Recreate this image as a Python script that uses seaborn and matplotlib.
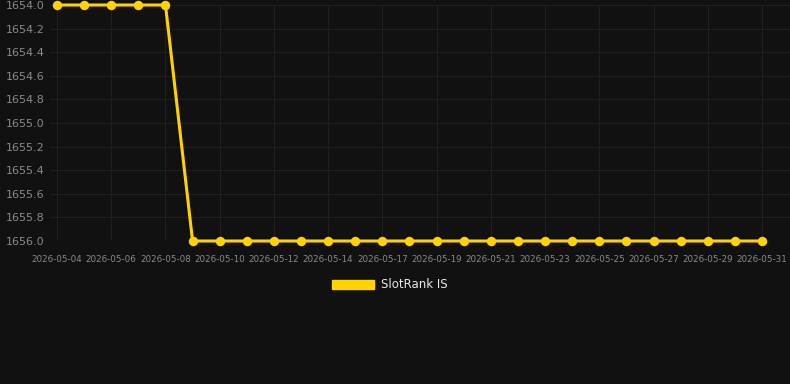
import matplotlib
matplotlib.use("Agg")
import matplotlib.pyplot as plt
import seaborn as sns
import pandas as pd
from matplotlib.patches import Patch

dates = ["2026-05-04", "2026-05-05", "2026-05-06", "2026-05-07", "2026-05-08",
         "2026-05-09", "2026-05-10", "2026-05-11", "2026-05-12", "2026-05-13",
         "2026-05-14", "2026-05-16", "2026-05-17", "2026-05-18", "2026-05-19",
         "2026-05-20", "2026-05-21", "2026-05-22", "2026-05-23", "2026-05-24",
         "2026-05-25", "2026-05-26", "2026-05-27", "2026-05-28", "2026-05-29",
         "2026-05-30", "2026-05-31"]
rank = [1654, 1654, 1654, 1654, 1654,
        1656, 1656, 1656, 1656, 1656,
        1656, 1656, 1656, 1656, 1656,
        1656, 1656, 1656, 1656, 1656,
        1656, 1656, 1656, 1656, 1656,
        1656, 1656]
series_name = "SlotRank IS"
yticks = [1654.0, 1654.2, 1654.4, 1654.6, 1654.8, 1655.0, 1655.2, 1655.4, 1655.6, 1655.8, 1656.0]

df = pd.DataFrame({"date": dates, "rank": rank, "series": series_name})
df["idx"] = range(len(df))

sns.set_style("dark")
bg = "#111111"
gold = "#FFD200"

fig = plt.figure(figsize=(7.9, 3.84), dpi=100, facecolor=bg)
ax = fig.add_axes([50 / 790, 1 - 241 / 384, 740 / 790, 236 / 384])
ax.set_facecolor(bg)

sns.lineplot(data=df, x="idx", y="rank", ax=ax, color=gold, linewidth=2.2,
             marker="o", markersize=6.8, markeredgewidth=0, legend=False)
for ln in ax.lines:
    ln.set_clip_on(False)

ax.set_ylim(1656.0, 1654.0)
ax.set_yticks(yticks)
ax.set_yticklabels([f"{v:.1f}" for v in yticks])
xt = list(range(0, len(dates), 2))
ax.set_xticks(xt)
ax.set_xticklabels([dates[i] for i in xt])
ax.set_xlim(-7 / 27.115, 26 + 28 / 27.115)

ax.grid(True, color="#1f1f1f", linewidth=0.8)
for s in ax.spines.values():
    s.set_visible(False)
ax.tick_params(axis="y", colors="#8a8a8a", labelsize=8, length=0, pad=4)
ax.tick_params(axis="x", colors="#8a8a8a", labelsize=6.3, length=0, pad=10)
ax.set_xlabel("")
ax.set_ylabel("")

leg = fig.legend(handles=[Patch(facecolor=gold, edgecolor=gold)], labels=[series_name],
                 loc="center", bbox_to_anchor=(390 / 790, 1 - 285 / 384), frameon=False,
                 handlelength=3.6, handleheight=0.9, handletextpad=0.6, fontsize=8.5)
for t in leg.get_texts():
    t.set_color("#e8e8e8")

fig.savefig("out.png", dpi=100, facecolor=bg)
